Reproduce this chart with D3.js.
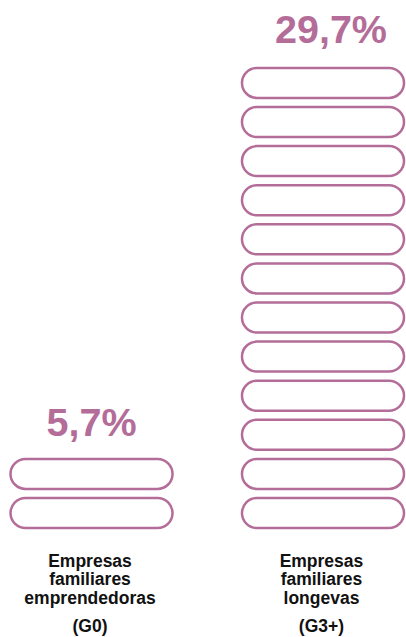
<!DOCTYPE html>
<html>
<head>
<meta charset="utf-8">
<script src="https://cdn.jsdelivr.net/npm/d3@7"></script>
<style>
  body { margin: 0; background: #fff; }
  text { font-family: "Liberation Sans", Arial, sans-serif; font-weight: bold; }
</style>
</head>
<body>
<div id="container"></div>
<script>
/* DATA */
const groups = ["G0", "G3+"]
const values = [5.7, 29.7]
const valueLabels = ["5,7%", "29,7%"]
const nameLines = [
  ["Empresas", "familiares", "emprendedoras"],
  ["Empresas", "familiares", "longevas"]
]
const codeLabels = ["(G0)", "(G3+)"]
const unit = 2.5 // one pill = 2.5 %

/* CONSTANTS */
const width = 406,
  height = 637,
  color = "#b36d98"

const svg = d3.select("#container")
  .append("svg")
  .attr("width", width)
  .attr("height", height)

const xScale = d3.scaleBand()
  .domain(groups)
  .range([10.5, 404])
  .paddingInner(0.3)

const yScale = d3.scaleLinear()
  .domain([0, 30])
  .range([531, 61.8])

const step = yScale(0) - yScale(unit)
const pillH = 30
const pillTop = v => yScale(v) + step - pillH - 3

// one row per pill
const pills = []
groups.forEach((g, gi) => {
  const n = Math.round(values[gi] / unit)
  for (let i = 0; i < n; i++) pills.push({ group: g, i })
})

svg.selectAll("rect.pill")
  .data(pills)
  .join("rect")
  .attr("class", "pill")
  .attr("x", d => xScale(d.group))
  .attr("y", d => pillTop((d.i + 1) * unit))
  .attr("width", xScale.bandwidth())
  .attr("height", pillH)
  .attr("rx", pillH / 2)
  .attr("fill", "none")
  .attr("stroke", color)
  .attr("stroke-width", 2.5)

// value labels above the stacks
const labelDx = [0, 8],
  labelDy = [-23, -24.6]
svg.selectAll("text.value")
  .data(groups)
  .join("text")
  .attr("class", "value")
  .attr("x", (d, i) => xScale(d) + xScale.bandwidth() / 2 + labelDx[i])
  .attr("y", (d, i) => pillTop(Math.round(values[i] / unit) * unit) + labelDy[i])
  .attr("text-anchor", "middle")
  .attr("fill", color)
  .attr("font-size", "39.5px")
  .text((d, i) => valueLabels[i])

// category names
const names = svg.selectAll("text.name")
  .data(groups)
  .join("text")
  .attr("class", "name")
  .attr("text-anchor", "middle")
  .attr("fill", "#111")
  .attr("font-size", "17.5px")

names.selectAll("tspan")
  .data((d, i) => nameLines[i].map(t => ({ t, g: d })))
  .join("tspan")
  .attr("x", d => xScale(d.g) + xScale.bandwidth() / 2 - 1.5)
  .attr("y", (d, j) => 566.5 + j * 18.6)
  .text(d => d.t)

svg.selectAll("text.code")
  .data(groups)
  .join("text")
  .attr("class", "code")
  .attr("x", d => xScale(d) + xScale.bandwidth() / 2 - 1.5)
  .attr("y", 632)
  .attr("text-anchor", "middle")
  .attr("fill", "#111")
  .attr("font-size", "17.5px")
  .text((d, i) => codeLabels[i])
</script>
</body>
</html>
